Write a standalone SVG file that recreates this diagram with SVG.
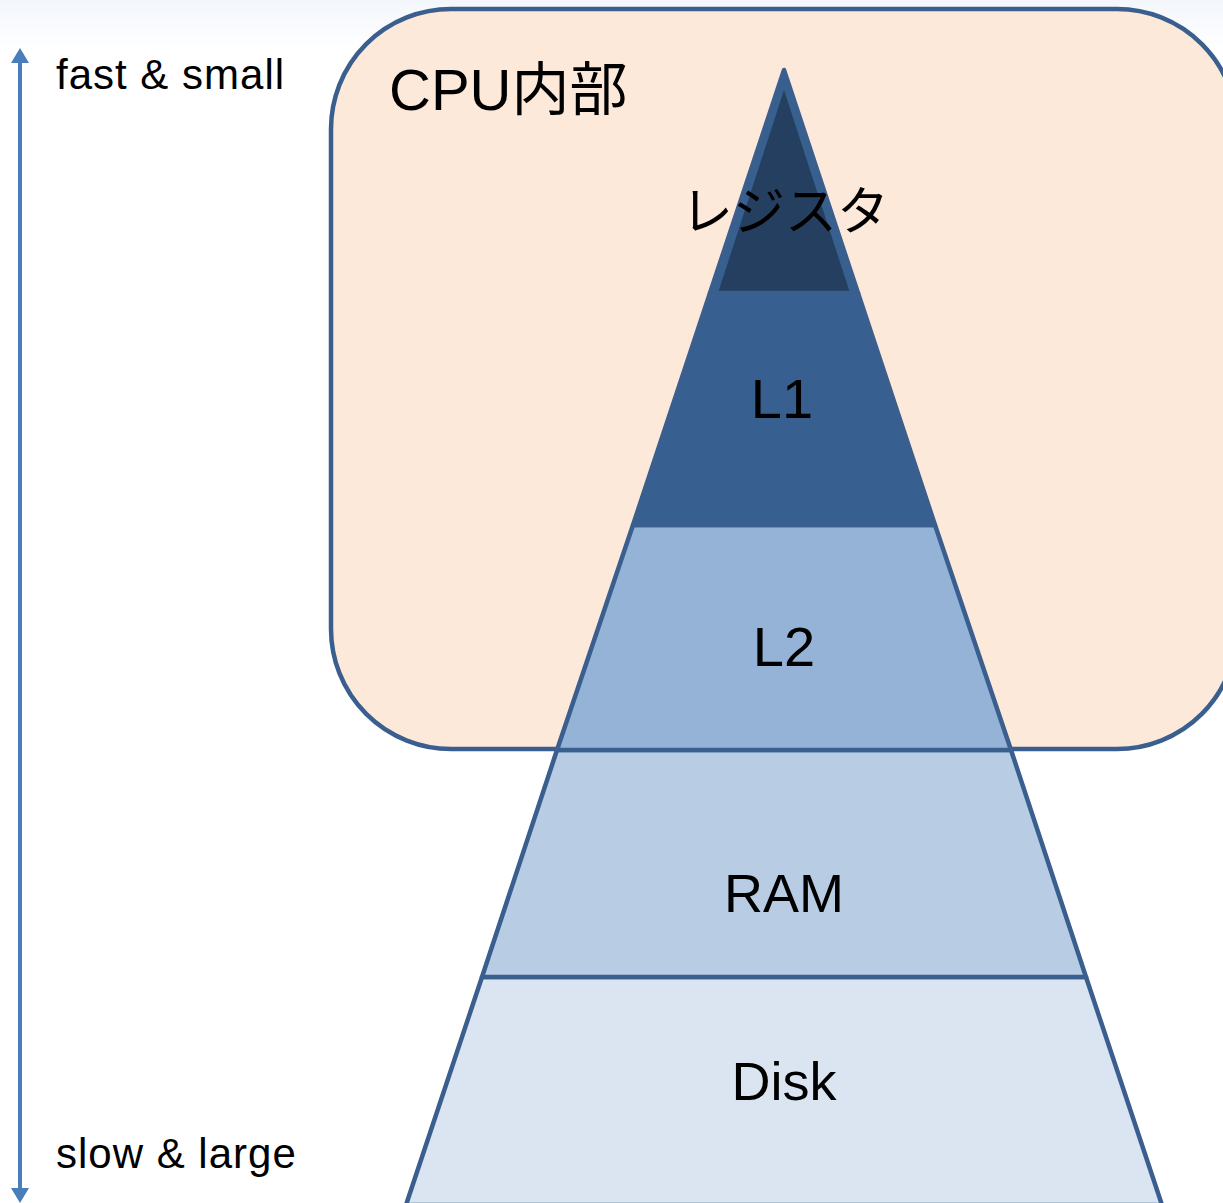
<svg xmlns="http://www.w3.org/2000/svg" width="1223" height="1203" viewBox="0 0 1223 1203">
<defs>
<linearGradient id="bg" x1="0" y1="0" x2="0" y2="1">
<stop offset="0" stop-color="#f3f6fb"/>
<stop offset="1" stop-color="#ffffff"/>
</linearGradient>
<clipPath id="regclip"><polygon points="784,70 858,293 710,293"/></clipPath>
<style>
.lbl{font-family:"Liberation Sans","Noto Sans CJK JP",sans-serif;fill:#000}
.layer{stroke:#3a5f8f;stroke-width:4.5;stroke-linejoin:round}
.head{fill:#4a7ebb}
</style>
</defs>
<rect x="0" y="0" width="1223" height="50" fill="url(#bg)"/>
<rect x="0" y="50" width="1223" height="1153" fill="#ffffff"/>

<g id="cpu">
<rect x="331" y="9" width="906" height="740" rx="120" ry="120" fill="#fde9da" stroke="#3a5f8f" stroke-width="4.5"/>
<text class="lbl" x="389" y="110" font-size="58">CPU内部</text>
</g>

<g id="disk">
<polygon class="layer" points="482,977 1086,977 1162,1205 406,1205" fill="#dbe5f1"/>
<text class="lbl" x="784" y="1100" font-size="54" text-anchor="middle">Disk</text>
</g>
<g id="ram">
<polygon class="layer" points="557,750 1011,750 1086,977 482,977" fill="#b8cce4"/>
<text class="lbl" x="784" y="912" font-size="54" text-anchor="middle">RAM</text>
</g>
<g id="l2">
<polygon class="layer" points="633,525 935,525 1011,750 557,750" fill="#95b3d7"/>
<text class="lbl" x="784" y="666" font-size="56" text-anchor="middle">L2</text>
</g>
<g id="l1">
<polygon class="layer" points="710,293 858,293 935,525 633,525" fill="#376091"/>
<text class="lbl" x="782" y="418" font-size="56" text-anchor="middle">L1</text>
</g>
<g id="register">
<polygon points="784,70 858,293 710,293" fill="#38608f"/>
<polygon points="784,90 851,296 717,296" fill="#253f61" clip-path="url(#regclip)"/>
<polygon points="784,70 858,293 710,293" fill="none" stroke="#3a5f8f" stroke-width="4.5" stroke-linejoin="round"/>
<text class="lbl" x="785" y="230" font-size="52" text-anchor="middle">レジスタ</text>
</g>

<g id="connectors">
<line x1="20" y1="58" x2="20" y2="1192" stroke="#4a7ebb" stroke-width="4"/>
<polygon class="head" points="20,48 29,63 11,63"/>
<polygon class="head" points="20,1203 29,1188 11,1188"/>
</g>
<text class="lbl" x="56" y="89" font-size="42" letter-spacing="1">fast &amp; small</text>
<text class="lbl" x="56" y="1168" font-size="42" letter-spacing="1">slow &amp; large</text>
</svg>
